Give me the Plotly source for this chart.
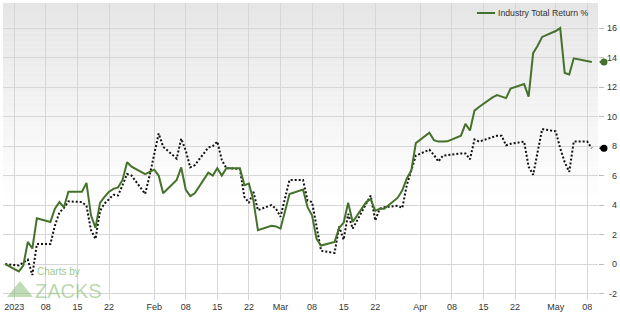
import pandas as pd
import plotly.graph_objects as go

# ---------------- data ----------------
industry_dates = [
    "2022-12-30", "2023-01-02", "2023-01-03", "2023-01-04", "2023-01-05", "2023-01-06",
    "2023-01-09", "2023-01-10", "2023-01-11", "2023-01-12", "2023-01-13", "2023-01-16",
    "2023-01-17", "2023-01-18", "2023-01-19", "2023-01-20", "2023-01-21", "2023-01-22",
    "2023-01-23", "2023-01-24", "2023-01-25", "2023-01-26", "2023-01-27", "2023-01-30",
    "2023-01-31", "2023-02-01", "2023-02-02", "2023-02-03", "2023-02-06", "2023-02-07",
    "2023-02-08", "2023-02-09", "2023-02-10", "2023-02-13", "2023-02-14", "2023-02-15",
    "2023-02-16", "2023-02-17", "2023-02-20", "2023-02-21", "2023-02-22", "2023-02-23",
    "2023-02-24", "2023-02-27", "2023-02-28", "2023-03-01", "2023-03-03", "2023-03-06",
    "2023-03-07", "2023-03-08", "2023-03-09", "2023-03-10", "2023-03-13", "2023-03-14",
    "2023-03-15", "2023-03-16", "2023-03-17", "2023-03-20", "2023-03-21", "2023-03-22",
    "2023-03-23", "2023-03-24", "2023-03-27", "2023-03-28", "2023-03-29", "2023-03-30",
    "2023-03-31", "2023-04-03", "2023-04-04", "2023-04-05", "2023-04-06", "2023-04-07",
    "2023-04-10", "2023-04-11", "2023-04-12", "2023-04-13", "2023-04-14", "2023-04-17",
    "2023-04-18", "2023-04-19", "2023-04-20", "2023-04-21", "2023-04-24", "2023-04-25",
    "2023-04-26", "2023-04-27", "2023-04-28", "2023-05-01", "2023-05-02", "2023-05-03",
    "2023-05-04", "2023-05-05", "2023-05-08", "2023-05-09",
]
industry_return = [
    0.0, -0.5, -0.1, 1.5, 1.05, 3.1,
    2.85, 3.75, 4.2, 3.85, 4.9, 4.9,
    5.5, 3.3, 2.45, 4.15, 4.55, 4.9,
    5.1, 5.2, 5.7, 6.9, 6.6, 6.1,
    6.25, 6.4, 6.0, 4.8, 5.7, 6.55,
    5.05, 4.6, 4.8, 6.2, 6.0, 6.5,
    6.0, 6.5, 6.5, 5.35, 5.45, 4.3,
    2.3, 2.6, 2.55, 2.4, 4.75, 5.05,
    3.85, 3.3, 1.7, 1.25, 1.5, 2.45,
    2.8, 4.15, 2.85, 4.2, 4.4, 3.6,
    3.75, 3.75, 4.5, 5.0, 5.8, 6.35,
    8.2, 8.9, 8.4, 8.3, 8.3, 8.32,
    8.7, 9.5, 9.05, 10.4, 10.65, 11.3,
    11.45, 11.35, 11.25, 11.9, 12.2, 11.35,
    14.3, 14.8, 15.4, 15.8, 16.0, 12.95,
    12.85, 13.95, 13.75, 13.7,
]

benchmark_dates = [
    "2022-12-30", "2023-01-02", "2023-01-04", "2023-01-05", "2023-01-06", "2023-01-09",
    "2023-01-10", "2023-01-11", "2023-01-12", "2023-01-13", "2023-01-16", "2023-01-17",
    "2023-01-18", "2023-01-19", "2023-01-20", "2023-01-21", "2023-01-23", "2023-01-24",
    "2023-01-25", "2023-01-26", "2023-01-27", "2023-01-30", "2023-01-31", "2023-02-01",
    "2023-02-02", "2023-02-03", "2023-02-06", "2023-02-07", "2023-02-08", "2023-02-09",
    "2023-02-10", "2023-02-13", "2023-02-14", "2023-02-15", "2023-02-16", "2023-02-17",
    "2023-02-20", "2023-02-21", "2023-02-22", "2023-02-23", "2023-02-24", "2023-02-27",
    "2023-02-28", "2023-03-01", "2023-03-02", "2023-03-03", "2023-03-06", "2023-03-07",
    "2023-03-08", "2023-03-09", "2023-03-10", "2023-03-13", "2023-03-14", "2023-03-15",
    "2023-03-16", "2023-03-17", "2023-03-20", "2023-03-21", "2023-03-22", "2023-03-23",
    "2023-03-24", "2023-03-27", "2023-03-28", "2023-03-29", "2023-03-30", "2023-03-31",
    "2023-04-03", "2023-04-04", "2023-04-05", "2023-04-06", "2023-04-10", "2023-04-11",
    "2023-04-12", "2023-04-13", "2023-04-14", "2023-04-17", "2023-04-18", "2023-04-19",
    "2023-04-20", "2023-04-21", "2023-04-24", "2023-04-25", "2023-04-26", "2023-04-27",
    "2023-04-28", "2023-05-01", "2023-05-02", "2023-05-03", "2023-05-04", "2023-05-05",
    "2023-05-08", "2023-05-09",
]
benchmark_return = [
    0.0, -0.1, 0.3, -0.75, 1.35, 1.35,
    2.6, 3.5, 3.8, 4.25, 4.2, 3.95,
    2.3, 1.7, 3.6, 4.1, 4.7, 4.65,
    5.35, 6.1, 6.0, 4.75, 6.0, 7.5,
    8.85, 7.95, 7.15, 8.5, 7.7, 6.55,
    6.7, 7.9, 8.0, 8.3, 7.05, 6.5,
    6.45, 4.55, 4.15, 4.9, 3.65, 4.0,
    3.75, 3.2, 4.45, 5.7, 5.7, 4.3,
    4.2, 2.5, 0.9, 0.75, 2.55, 1.65,
    3.4, 2.4, 4.1, 4.65, 2.95, 3.75,
    3.85, 3.95, 3.8, 5.35, 6.35, 7.35,
    7.75, 7.4, 6.95, 7.35, 7.5, 7.5,
    7.1, 8.45, 8.3, 8.6, 8.7, 8.7,
    8.05, 8.15, 8.3, 6.6, 6.05, 7.6,
    9.15, 9.0, 7.85, 6.9, 6.25, 8.3,
    8.3, 7.85,
]

x_tick_dates = [
    "2023-01-01", "2023-01-08", "2023-01-15", "2023-01-22",
    "2023-02-01", "2023-02-08", "2023-02-15", "2023-02-22",
    "2023-03-01", "2023-03-08", "2023-03-15", "2023-03-22",
    "2023-04-01", "2023-04-08", "2023-04-15", "2023-04-22",
    "2023-05-01", "2023-05-08",
]
x_tick_labels = [
    "2023", "08", "15", "22",
    "Feb", "08", "15", "22",
    "Mar", "08", "15", "22",
    "Apr", "08", "15", "22",
    "May", "08",
]
y_tick_values = [-2, 0, 2, 4, 6, 8, 10, 12, 14, 16]

legend_label = "Industry Total Return %"

# ---------------- styling ----------------
GREEN = "#44722a"
FONT = "Liberation Sans, Arial, sans-serif"

fig = go.Figure()

fig.add_trace(go.Scatter(
    x=pd.to_datetime(benchmark_dates), y=benchmark_return,
    mode="lines", line=dict(color="#111111", width=2, dash="2px,2px"),
    showlegend=False, hoverinfo="skip",
))
fig.add_trace(go.Scatter(
    x=pd.to_datetime(industry_dates), y=industry_return,
    mode="lines", line=dict(color=GREEN, width=2),
    name=legend_label, showlegend=False,
))

shapes = []
# vertical gradient background (grey at top fading to white)
n = 40
y0 = 0.33
for i in range(n):
    a = y0 + (1 - y0) * i / n
    b = y0 + (1 - y0) * (i + 1) / n
    t = (i + 0.5) / n
    c = int(round(255 - (255 - 229) * t))
    shapes.append(dict(type="rect", xref="paper", yref="paper", x0=0, x1=1, y0=a, y1=b,
                       fillcolor=f"rgb({c},{c},{c})", line=dict(width=0), layer="below"))

# end-of-series tags just right of the plot area, at each series' last value
for vals, col in [(industry_return, GREEN), (benchmark_return, "#000000")]:
    shapes.append(dict(type="path", xref="paper", yref="y",
                       xsizemode="pixel", ysizemode="pixel", xanchor=1, yanchor=vals[-1],
                       path="M 1 0 L 5.5 3.5 L 5.5 -3.5 Z",
                       fillcolor=col, line=dict(width=0), layer="above"))
    shapes.append(dict(type="circle", xref="paper", yref="y",
                       xsizemode="pixel", ysizemode="pixel", xanchor=1, yanchor=vals[-1],
                       x0=2.5, x1=9.5, y0=-3.5, y1=3.5,
                       fillcolor=col, line=dict(width=0), layer="above"))

# legend sample line
shapes.append(dict(type="line", xref="paper", yref="paper",
                   x0=(477 - 3) / 595, x1=(495 - 3) / 595, y0=(300 - 13) / 297, y1=(300 - 13) / 297,
                   line=dict(color=GREEN, width=2)))

# Zacks watermark triangle
shapes.append(dict(type="path", xref="paper", yref="paper",
                   path="M 0.0067 0.010 L 0.0504 0.010 L 0.0286 0.064 Z",
                   fillcolor="rgba(140,190,120,0.55)", line=dict(width=0), layer="above"))

annotations = [
    dict(text=legend_label, xref="paper", yref="paper", x=(497 - 3) / 595, y=(300 - 13) / 297,
         xanchor="left", yanchor="middle", showarrow=False, borderpad=0,
         font=dict(family=FONT, size=8.7, color="#333333")),
    dict(text="Charts by", xref="paper", yref="paper", x=0.0555, y=(300 - 271) / 297,
         xanchor="left", yanchor="middle", showarrow=False, borderpad=0,
         font=dict(family=FONT, size=10, color="rgba(120,180,100,0.75)")),
    dict(text="ZACKS", xref="paper", yref="paper", x=0.052, y=(300 - 291) / 297,
         xanchor="left", yanchor="middle", showarrow=False, borderpad=0,
         font=dict(family=FONT, size=20, color="rgba(140,190,120,0.6)")),
]
# right-aligned y tick labels
for v in y_tick_values:
    annotations.append(dict(text=str(v), xref="paper", yref="y", x=(617.5 - 3) / 595, y=v,
                            xanchor="right", yanchor="middle", showarrow=False, borderpad=0,
                            font=dict(family=FONT, size=9, color="#333333")))

fig.update_layout(
    width=620, height=314,
    margin=dict(l=3, r=22, t=3, b=14),
    paper_bgcolor="white", plot_bgcolor="white",
    font=dict(family=FONT, size=9, color="#333333"),
    shapes=shapes, annotations=annotations,
    showlegend=False,
    xaxis=dict(
        type="date",
        range=["2022-12-29 12:00", "2023-05-10 09:00"],
        tickmode="array", tickvals=x_tick_dates, ticktext=x_tick_labels,
        showgrid=True, gridcolor="#d6d6d6", gridwidth=1,
        ticks="", showline=False, zeroline=False,
        tickfont=dict(family=FONT, size=9, color="#333333"),
    ),
    yaxis=dict(
        side="right", range=[-2.44, 17.7],
        tickmode="array", tickvals=y_tick_values, showticklabels=False,
        showgrid=True, gridcolor="#d6d6d6", gridwidth=1,
        ticks="outside", ticklen=5, tickcolor="#bbbbbb",
        showline=False, zeroline=False,
    ),
)

fig.write_html("out.html")
